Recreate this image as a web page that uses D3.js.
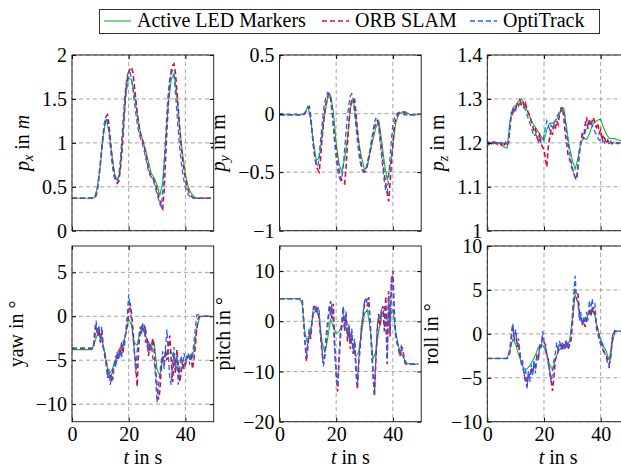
<!DOCTYPE html>
<html>
<head>
<meta charset="utf-8">
<script src="https://cdn.jsdelivr.net/npm/d3@7"></script>
<style>
  body { margin: 0; background: #fff; }
  svg { display: block; font-family: "Liberation Serif", "Times New Roman", serif; }
</style>
</head>
<body>
<svg id="chart" width="621" height="468"></svg>
<script>
// sample spacing of the recordings in s
const ledStep = 1.0;   // Active LED Markers
const refStep = 0.5;   // ORB SLAM and OptiTrack

const seriesNames = ["Active LED Markers", "ORB SLAM", "OptiTrack"];
const xTicks = [0, 20, 40];

// ---- p_x ----
const ledPx = [
  0.37, 0.37, 0.37, 0.37, 0.37, 0.37, 0.37, 0.37, 0.38, 0.50,
  0.75, 1.08, 1.27, 1.15, 0.88, 0.65, 0.57, 0.68, 1.10, 1.55,
  1.74, 1.72, 1.55, 1.33, 1.15, 1.02, 0.92, 0.78, 0.65, 0.60,
  0.52, 0.40, 0.55, 1.00, 1.45, 1.72, 1.79, 1.55, 1.18, 0.88,
  0.65, 0.50, 0.43, 0.39, 0.37, 0.37, 0.37, 0.37, 0.37, 0.37
];
const orbPx = [
  0.37, 0.37, 0.37, 0.37, 0.37, 0.37, 0.37, 0.37, 0.37, 0.37,
  0.37, 0.37, 0.37, 0.37, 0.37, 0.37, 0.37, 0.40, 0.47, 0.60,
  0.75, 0.92, 1.08, 1.22, 1.30, 1.32, 1.22, 1.05, 0.88, 0.74,
  0.62, 0.57, 0.54, 0.56, 0.68, 0.85, 1.08, 1.35, 1.58, 1.72,
  1.80, 1.84, 1.86, 1.80, 1.65, 1.50, 1.35, 1.22, 1.12, 1.06,
  1.02, 0.96, 0.88, 0.80, 0.72, 0.66, 0.62, 0.60, 0.57, 0.52,
  0.46, 0.40, 0.34, 0.28, 0.25, 0.45, 0.80, 1.15, 1.45, 1.68,
  1.82, 1.88, 1.90, 1.80, 1.60, 1.38, 1.16, 0.97, 0.82, 0.70,
  0.60, 0.52, 0.46, 0.42, 0.40, 0.38, 0.37, 0.37, 0.37, 0.37,
  0.37, 0.37, 0.37, 0.37, 0.37, 0.37, 0.37, 0.37, 0.37
];
const optiPx = [
  0.37, 0.37, 0.37, 0.37, 0.37, 0.37, 0.37, 0.37, 0.37, 0.37,
  0.37, 0.37, 0.37, 0.37, 0.37, 0.37, 0.38, 0.42, 0.50, 0.63,
  0.78, 0.95, 1.12, 1.24, 1.28, 1.25, 1.12, 0.96, 0.80, 0.68,
  0.60, 0.57, 0.57, 0.62, 0.78, 1.00, 1.25, 1.48, 1.65, 1.76,
  1.82, 1.80, 1.72, 1.60, 1.47, 1.34, 1.22, 1.13, 1.07, 1.02,
  0.97, 0.90, 0.83, 0.75, 0.68, 0.63, 0.61, 0.58, 0.54, 0.48,
  0.42, 0.36, 0.30, 0.27, 0.45, 0.72, 1.05, 1.35, 1.58, 1.72,
  1.79, 1.82, 1.76, 1.58, 1.36, 1.14, 0.95, 0.80, 0.67, 0.57,
  0.50, 0.45, 0.41, 0.39, 0.37, 0.37, 0.37, 0.37, 0.37, 0.37,
  0.37, 0.37, 0.37, 0.37, 0.37, 0.37, 0.37, 0.37, 0.37
];

// ---- p_y ----
const ledPy = [
  -0.01, -0.01, -0.01, -0.01, -0.01, -0.01, -0.01, -0.01, -0.01, 0.01,
  0.06, -0.05, -0.25, -0.40, -0.38, -0.20, 0.00, 0.13, 0.16, 0.02,
  -0.25, -0.43, -0.50, -0.38, -0.20, 0.05, 0.12, -0.05, -0.25, -0.38,
  -0.48, -0.45, -0.33, -0.22, -0.12, -0.06, -0.22, -0.42, -0.57, -0.45,
  -0.28, -0.08, -0.01, 0.01, 0.02, 0.01, -0.01, -0.01, -0.01, -0.01
];
const orbPy = [
  -0.01, -0.01, -0.01, -0.01, -0.01, -0.01, -0.01, -0.01, -0.01, -0.01,
  -0.01, -0.01, -0.01, -0.01, -0.01, -0.01, -0.01, -0.01, 0.00, 0.03,
  0.05, 0.06, -0.02, -0.15, -0.28, -0.38, -0.44, -0.48, -0.50, -0.38,
  -0.22, -0.08, 0.02, 0.10, 0.15, 0.17, 0.15, 0.05, -0.08, -0.22,
  -0.30, -0.40, -0.48, -0.54, -0.57, -0.59, -0.60, -0.45, -0.25, -0.08,
  0.05, 0.12, 0.13, 0.12, 0.00, -0.14, -0.27, -0.38, -0.45, -0.48,
  -0.50, -0.49, -0.44, -0.38, -0.32, -0.25, -0.18, -0.12, -0.08, -0.06,
  -0.08, -0.18, -0.30, -0.42, -0.52, -0.60, -0.68, -0.75, -0.60, -0.42,
  -0.25, -0.12, -0.05, -0.02, 0.00, 0.01, 0.01, 0.01, 0.01, 0.00,
  -0.01, -0.01, -0.01, -0.01, -0.01, -0.01, -0.01, -0.01, -0.01
];
const optiPy = [
  -0.01, -0.01, -0.01, -0.01, -0.01, -0.01, -0.01, -0.01, -0.01, -0.01,
  -0.01, -0.01, -0.01, -0.01, -0.01, -0.01, -0.01, -0.01, 0.00, 0.03,
  0.06, 0.06, -0.04, -0.17, -0.28, -0.38, -0.44, -0.45, -0.36, -0.22,
  -0.10, 0.02, 0.10, 0.15, 0.18, 0.17, 0.12, 0.02, -0.12, -0.26,
  -0.38, -0.48, -0.54, -0.57, -0.55, -0.45, -0.30, -0.15, -0.02, 0.08,
  0.15, 0.17, 0.12, 0.00, -0.12, -0.24, -0.34, -0.42, -0.47, -0.50,
  -0.50, -0.47, -0.42, -0.36, -0.30, -0.22, -0.15, -0.08, -0.04, -0.05,
  -0.12, -0.24, -0.36, -0.48, -0.58, -0.66, -0.68, -0.55, -0.38, -0.22,
  -0.10, -0.04, -0.01, 0.00, 0.01, 0.01, 0.01, 0.00, -0.01, -0.01,
  -0.01, -0.01, -0.01, -0.01, -0.01, -0.01, -0.01, -0.01, -0.01
];

// ---- p_z ----
const ledPz = [
  1.200, 1.200, 1.200, 1.200, 1.200, 1.195, 1.190, 1.188, 1.250, 1.280,
  1.285, 1.295, 1.300, 1.290, 1.275, 1.260, 1.245, 1.235, 1.225, 1.215,
  1.205, 1.230, 1.245, 1.245, 1.250, 1.260, 1.272, 1.278, 1.235, 1.190,
  1.160, 1.140, 1.165, 1.200, 1.212, 1.207, 1.220, 1.240, 1.248, 1.252,
  1.254, 1.235, 1.220, 1.210, 1.210, 1.210, 1.207, 1.205, 1.205, 1.205
];
const orbPz = [
  1.200, 1.196, 1.203, 1.198, 1.202, 1.195, 1.201, 1.197, 1.204, 1.199,
  1.195, 1.202, 1.196, 1.201, 1.194, 1.200, 1.235, 1.270, 1.262, 1.280,
  1.275, 1.292, 1.285, 1.297, 1.288, 1.294, 1.283, 1.290, 1.276, 1.268,
  1.262, 1.248, 1.240, 1.226, 1.232, 1.214, 1.205, 1.222, 1.198, 1.190,
  1.185, 1.165, 1.145, 1.190, 1.212, 1.230, 1.218, 1.240, 1.232, 1.250,
  1.242, 1.265, 1.275, 1.280, 1.258, 1.222, 1.200, 1.172, 1.165, 1.152,
  1.140, 1.130, 1.122, 1.118, 1.150, 1.182, 1.200, 1.222, 1.208, 1.240,
  1.258, 1.232, 1.255, 1.238, 1.250, 1.258, 1.240, 1.235, 1.245, 1.222,
  1.230, 1.205, 1.218, 1.208, 1.198, 1.206, 1.199, 1.203, 1.198, 1.201,
  1.199, 1.201, 1.198, 1.200, 1.199, 1.201, 1.200, 1.200, 1.200
];
const optiPz = [
  1.200, 1.202, 1.198, 1.201, 1.199, 1.202, 1.198, 1.200, 1.203, 1.199,
  1.201, 1.198, 1.200, 1.197, 1.199, 1.202, 1.240, 1.265, 1.275, 1.270,
  1.280, 1.285, 1.285, 1.290, 1.285, 1.280, 1.280, 1.275, 1.265, 1.255,
  1.245, 1.235, 1.225, 1.215, 1.220, 1.215, 1.210, 1.205, 1.200, 1.205,
  1.215, 1.235, 1.250, 1.240, 1.230, 1.240, 1.235, 1.245, 1.250, 1.260,
  1.265, 1.270, 1.280, 1.280, 1.275, 1.250, 1.220, 1.200, 1.180, 1.160,
  1.145, 1.130, 1.120, 1.115, 1.140, 1.175, 1.200, 1.215, 1.225, 1.222,
  1.238, 1.245, 1.250, 1.246, 1.240, 1.232, 1.225, 1.218, 1.212, 1.206,
  1.208, 1.202, 1.204, 1.199, 1.201, 1.200, 1.198, 1.201, 1.200, 1.200,
  1.200, 1.200, 1.200, 1.200, 1.200, 1.200, 1.200, 1.200, 1.200
];

// ---- yaw ----
const ledYaw = [
  -3.8, -3.8, -3.8, -3.8, -3.8, -3.8, -3.8, -3.8, -3.0, -2.0,
  -2.4, -3.2, -5.0, -6.6, -6.2, -5.3, -4.5, -4.0, -3.5, -1.8,
  -0.3, -1.0, -3.0, -3.3, -1.8, -1.3, -2.2, -3.4, -3.4, -3.0,
  -6.0, -6.8, -4.8, -4.5, -4.3, -4.1, -4.7, -5.3, -6.3, -5.8,
  -5.2, -4.6, -4.3, -4.0, -1.5, -0.1, 0.0, 0.0, 0.0, 0.0
];
const orbYaw = [
  -3.7, -3.7, -3.7, -3.7, -3.7, -3.7, -3.7, -3.7, -3.7, -3.7,
  -3.7, -3.7, -3.7, -3.7, -3.7, -3.7, -2.5, -1.0, -2.2, -1.5,
  -3.0, -1.5, -3.5, -4.0, -5.0, -6.0, -7.0, -6.5, -7.5, -6.0,
  -5.5, -4.5, -5.0, -3.8, -4.5, -3.0, -4.2, -2.5, -2.0, -1.0,
  0.5, 1.5, 0.3, -1.5, -4.0, -5.5, -8.0, -3.5, -2.0, -1.2,
  -1.5, -1.0, -3.0, -2.5, -4.5, -3.2, -3.8, -2.5, -4.0, -6.0,
  -8.0, -9.5, -8.5, -6.0, -4.5, -5.5, -3.8, -5.0, -3.5, -2.2,
  -5.0, -7.5, -4.5, -6.5, -3.8, -5.5, -7.5, -6.5, -5.0, -6.0,
  -5.5, -4.8, -4.5, -5.0, -4.2, -6.0, -5.0, -3.5, -1.5, -0.3,
  0.0, 0.0, 0.0, 0.0, 0.0, 0.0, 0.0, 0.0, 0.0
];
const optiYaw = [
  -3.6, -3.6, -3.6, -3.6, -3.6, -3.6, -3.6, -3.6, -3.6, -3.6,
  -3.6, -3.6, -3.6, -3.6, -3.6, -3.6, -1.5, -0.5, -2.0, -1.0,
  -2.8, -1.2, -3.5, -4.5, -5.5, -7.0, -6.0, -7.8, -6.5, -7.2,
  -5.0, -5.8, -4.0, -5.0, -3.5, -4.8, -2.8, -3.5, -1.5, 0.0,
  2.5, 1.0, -0.5, -2.5, -3.8, -6.5, -4.0, -2.5, -1.2, -2.0,
  -0.8, -2.0, -1.2, -3.5, -2.8, -4.0, -3.0, -4.8, -5.0, -7.0,
  -9.8, -8.0, -6.5, -5.0, -4.0, -6.0, -3.5, -1.5, -4.5, -7.0,
  -7.8, -5.0, -3.5, -6.0, -4.5, -7.8, -6.0, -4.5, -5.8, -4.2,
  -5.0, -4.5, -4.2, -5.5, -4.5, -4.8, -3.0, -1.5, 0.1, 0.2,
  0.1, 0.0, 0.0, 0.0, 0.0, 0.0, 0.0, 0.0, 0.0
];

// ---- pitch ----
const ledPitch = [
  4.5, 4.5, 4.5, 4.5, 4.5, 4.5, 4.5, 4.5, 3.5, -2.5,
  -4.5, -1.5, 1.5, 2.3, 0.5, -4.0, -6.3, -3.5, 0.3, -1.0,
  -2.5, -2.0, -1.0, -0.8, -1.7, -3.5, -5.0, -7.0, -6.0, -2.0,
  1.5, 2.3, -1.5, -7.5, -6.0, -2.0, 1.0, 1.0, 0.3, 1.0,
  2.3, -2.0, -5.0, -6.5, -7.5, -8.3, -8.5, -8.5, -8.5, -8.5
];
const orbPitch = [
  4.5, 4.5, 4.5, 4.5, 4.5, 4.5, 4.5, 4.5, 4.5, 4.5,
  4.5, 4.5, 4.5, 4.5, 4.5, 4.5, 4.5, 0.0, -4.0, -8.0,
  -5.0, -2.0, -3.5, 0.0, 2.5, 3.2, 1.8, 2.8, 0.5, -3.0,
  -6.0, -8.5, -7.0, -3.5, -1.0, 2.0, 4.0, 0.5, 3.5, -5.0,
  -10.0, -14.0, -8.0, -3.0, -1.0, 2.8, -2.0, 1.5, -4.0, -1.0,
  -5.5, -2.0, -6.5, -4.0, -10.0, -13.5, -8.0, -5.0, -1.0, 1.0,
  3.5, 4.5, 3.0, 4.8, 0.0, -5.0, -10.0, -15.0, -8.0, -2.0,
  1.5, -1.0, 2.0, 3.0, -2.0, 5.0, -8.5, 6.0, -3.0, 8.0,
  10.0, 2.0, -3.0, -4.0, -5.5, -7.0, -5.0, -5.5, -7.5, -8.5,
  -8.6, -8.5, -8.5, -8.5, -8.5, -8.5, -8.5, -8.5, -8.5
];
const optiPitch = [
  4.5, 4.5, 4.5, 4.5, 4.5, 4.5, 4.5, 4.5, 4.5, 4.5,
  4.5, 4.5, 4.5, 4.5, 4.5, 4.5, 4.5, 0.5, -3.5, -7.0,
  -4.0, -1.5, -3.0, 0.5, 3.0, 2.0, 3.2, 1.5, 2.0, -2.0,
  -5.5, -9.0, -6.0, -2.5, 0.0, 3.0, 1.0, 3.5, -1.0, -6.0,
  -11.0, -13.0, -7.0, -2.0, 0.0, 3.0, -1.5, 2.0, -3.0, -0.5,
  -4.5, -1.5, -6.0, -3.5, -9.0, -12.5, -7.0, -4.0, -0.5, 1.5,
  4.0, 3.5, 4.5, 3.0, -1.0, -6.0, -11.0, -14.5, -7.0, -1.0,
  1.0, 0.0, 2.5, 1.5, 3.0, -1.0, -7.5, 5.0, -2.0, 9.0,
  7.0, 1.0, -2.5, -4.5, -5.0, -6.5, -5.5, -6.0, -8.0, -8.6,
  -8.6, -8.6, -8.6, -8.6, -8.6, -8.6, -8.6, -8.6, -8.6
];

// ---- roll ----
const ledRoll = [
  -2.8, -2.8, -2.8, -2.8, -2.8, -2.8, -2.8, -2.8, -1.8, -0.6,
  -1.2, -2.3, -3.2, -4.0, -4.0, -3.6, -3.1, -2.4, -1.5, -1.2,
  -1.5, -2.4, -3.5, -4.1, -3.0, -2.0, -1.6, -1.5, -1.3, -0.8,
  1.6, 4.5, 3.5, 1.6, 1.3, 1.8, 2.4, 2.8, 2.0, 0.5,
  -0.6, -1.4, -2.0, -3.0, -1.2, 0.2, 0.3, 0.3, 0.3, 0.3
];
const orbRoll = [
  -2.8, -2.8, -2.8, -2.8, -2.8, -2.8, -2.8, -2.8, -2.8, -2.8,
  -2.8, -2.8, -2.8, -2.8, -2.8, -2.7, -2.0, -0.5, 1.0, -0.5,
  0.2, -1.5, -1.0, -2.5, -3.0, -3.8, -4.5, -5.5, -6.0, -4.5,
  -5.0, -3.8, -4.5, -3.5, -3.8, -2.5, -2.8, -1.5, -1.2, -0.5,
  -1.0, -1.2, -2.5, -3.0, -4.5, -5.2, -6.5, -5.0, -3.0, -2.5,
  -2.0, -1.5, -1.2, -1.8, -1.0, -1.5, -1.0, -1.8, -1.2, -1.0,
  1.0, 3.5, 5.0, 4.8, 4.5, 2.5, 2.0, 1.0, 1.5, 0.8,
  1.5, 2.0, 2.5, 2.0, 3.0, 2.2, 2.5, 1.0, 0.5, -0.5,
  -1.0, -1.5, -2.0, -2.2, -2.5, -3.0, -3.5, -2.8, -1.0, 0.0,
  0.3, 0.3, 0.3, 0.3, 0.3, 0.3, 0.3, 0.3, 0.3
];
const optiRoll = [
  -2.8, -2.8, -2.8, -2.8, -2.8, -2.8, -2.8, -2.8, -2.8, -2.8,
  -2.8, -2.8, -2.8, -2.8, -2.8, -2.5, -1.5, 0.0, 1.2, -0.8,
  0.5, -1.2, -0.5, -2.0, -3.5, -3.0, -4.8, -4.0, -6.2, -4.2,
  -5.5, -3.5, -4.8, -3.0, -4.5, -2.5, -3.0, -1.2, -1.8, 0.3,
  -0.8, -1.5, -2.0, -3.5, -4.0, -5.5, -4.5, -3.0, -2.2, -1.0,
  -2.0, -0.8, -1.8, -1.0, -1.8, -0.8, -1.6, -0.9, -1.5, 0.0,
  2.0, 4.5, 6.6, 4.0, 3.5, 1.5, 2.5, 1.0, 2.0, 1.2,
  2.5, 1.5, 3.8, 2.5, 4.0, 2.8, 3.5, 0.5, 0.0, -0.8,
  -1.2, -0.8, -1.8, -2.2, -2.8, -3.5, -3.9, -2.5, -0.5, 0.2,
  0.4, 0.3, 0.3, 0.3, 0.3, 0.3, 0.3, 0.3, 0.3
];

// y axes: domains and tick values per panel
const yDomains = [[0, 2], [-1, 0.5], [1, 1.4], [-12, 8], [-20, 15], [-10, 10]];
const yTicks = [
  [0, 0.5, 1, 1.5, 2],
  [-1, -0.5, 0, 0.5],
  [1, 1.1, 1.2, 1.3, 1.4],
  [-10, -5, 0, 5],
  [-20, -10, 0, 10],
  [-10, -5, 0, 5, 10]
];
// axis titles as [text, italic, subscript] pieces
const yLabels = [
  [["p", 1, 0], ["x", 1, 1], [" in ", 0, 0], ["m", 1, 0]],
  [["p", 1, 0], ["y", 1, 1], [" in m", 0, 0]],
  [["p", 1, 0], ["z", 1, 1], [" in m", 0, 0]],
  [["yaw in °", 0, 0]],
  [["pitch in °", 0, 0]],
  [["roll in °", 0, 0]]
];

const ledData = [ledPx, ledPy, ledPz, ledYaw, ledPitch, ledRoll];
const orbData = [orbPx, orbPy, orbPz, orbYaw, orbPitch, orbRoll];
const optiData = [optiPx, optiPy, optiPz, optiYaw, optiPitch, optiRoll];

const colors = ["#00bf33", "#d0103a", "#1f63ff"];

const svg = d3.select("#chart");
const colX = [72, 279.5, 487.3];
const rowY = [55, 246];
const pw = 141.7, ph = 175.7;
const fs = 20;

function addLabel(sel, parts) {
  parts.forEach(([txt, it, sub], j) => {
    const prevSub = j > 0 && parts[j - 1][2];
    const ts = sel.append("tspan").text(txt)
      .attr("font-style", it ? "italic" : "normal");
    if (sub) ts.attr("font-size", 14).attr("dy", 4);
    else if (prevSub) ts.attr("dy", -4);
  });
}

yDomains.forEach((dom, k) => {
  const col = k % 3, row = Math.floor(k / 3);
  const g = svg.append("g")
    .attr("transform", `translate(${colX[col]},${rowY[row]})`);

  const x = d3.scaleLinear().domain([0, 50]).range([0, pw]);
  const y = d3.scaleLinear().domain(dom).range([ph, 0]);

  // dashed grid
  const grid = g.append("g")
    .attr("stroke", "#9a9a9a")
    .attr("stroke-width", 0.9)
    .attr("stroke-dasharray", "4,3");
  grid.selectAll(".gx").data(xTicks).join("line")
    .attr("x1", d => x(d)).attr("x2", d => x(d))
    .attr("y1", 0).attr("y2", ph);
  grid.selectAll(".gy").data(yTicks[k]).join("line")
    .attr("y1", d => y(d)).attr("y2", d => y(d))
    .attr("x1", 0).attr("x2", pw);

  // clip to the axis box
  const clipId = "clip" + k;
  g.append("clipPath").attr("id", clipId)
    .append("rect").attr("width", pw).attr("height", ph);

  const plot = g.append("g").attr("clip-path", `url(#${clipId})`);
  const lineFor = step => d3.line()
    .x((d, i) => x(i * step))
    .y(d => y(d));

  plot.append("path")
    .datum(ledData[k])
    .attr("fill", "none")
    .attr("stroke", colors[0])
    .attr("stroke-width", 1.1)
    .attr("d", lineFor(ledStep));

  plot.append("path")
    .datum(orbData[k])
    .attr("fill", "none")
    .attr("stroke", colors[1])
    .attr("stroke-width", 1.6)
    .attr("stroke-dasharray", "5,3")
    .attr("d", lineFor(refStep));

  plot.append("path")
    .datum(optiData[k])
    .attr("fill", "none")
    .attr("stroke", colors[2])
    .attr("stroke-width", 1.3)
    .attr("stroke-dasharray", "5,3")
    .attr("d", lineFor(refStep));

  // axes with inward ticks on all sides
  const fmt = d3.format("~g");
  const yAx = g.append("g")
    .call(d3.axisLeft(y).tickValues(yTicks[k]).tickSize(-4).tickPadding(5).tickFormat(fmt))
    .attr("font-family", null).attr("font-size", fs);
  yAx.select(".domain").remove();
  yAx.selectAll("text").attr("dy", "0.33em");

  g.append("g").attr("transform", `translate(${pw},0)`)
    .call(d3.axisRight(y).tickValues(yTicks[k]).tickSize(-4).tickFormat(""))
    .select(".domain").remove();
  g.append("g")
    .call(d3.axisTop(x).tickValues(xTicks).tickSize(-4).tickFormat(""))
    .select(".domain").remove();

  const xAx = g.append("g").attr("transform", `translate(0,${ph})`)
    .call(d3.axisBottom(x).tickValues(xTicks).tickSize(-4).tickPadding(5)
      .tickFormat(row === 1 ? fmt : ""))
    .attr("font-family", null).attr("font-size", fs);
  xAx.select(".domain").remove();

  g.append("rect")
    .attr("width", pw).attr("height", ph)
    .attr("fill", "none")
    .attr("stroke", "#262626")
    .attr("stroke-width", 1);

  // y title placed left of the widest tick label
  const maxW = d3.max(yAx.selectAll("text").nodes(), n => n.getComputedTextLength());
  const lx = -5 - maxW - 13;
  const yt = g.append("text")
    .attr("transform", `translate(${lx},${ph / 2}) rotate(-90)`)
    .attr("text-anchor", "middle")
    .attr("font-size", fs);
  addLabel(yt, yLabels[k]);

  if (row === 1) {
    const xt = g.append("text")
      .attr("x", pw / 2).attr("y", ph + 42)
      .attr("text-anchor", "middle")
      .attr("font-size", fs);
    xt.append("tspan").attr("font-style", "italic").text("t");
    xt.append("tspan").text(" in s");
  }
});

// legend
const legend = svg.append("g");
legend.append("rect")
  .attr("x", 99.5).attr("y", 9.5)
  .attr("width", 500).attr("height", 24)
  .attr("fill", "#fff")
  .attr("stroke", "#333")
  .attr("stroke-width", 1);

const legendX = [104, 322, 470];
seriesNames.forEach((name, i) => {
  const row = legend.append("g").attr("transform", `translate(${legendX[i]},0)`);
  row.append("line")
    .attr("x1", 0).attr("x2", 27)
    .attr("y1", 21).attr("y2", 21)
    .attr("stroke", colors[i])
    .attr("stroke-width", i === 0 ? 1.1 : 1.5)
    .attr("stroke-dasharray", i === 0 ? null : "5,3");
  row.append("text")
    .attr("x", 33).attr("y", 27)
    .attr("font-size", fs)
    .text(name);
});
</script>
</body>
</html>
